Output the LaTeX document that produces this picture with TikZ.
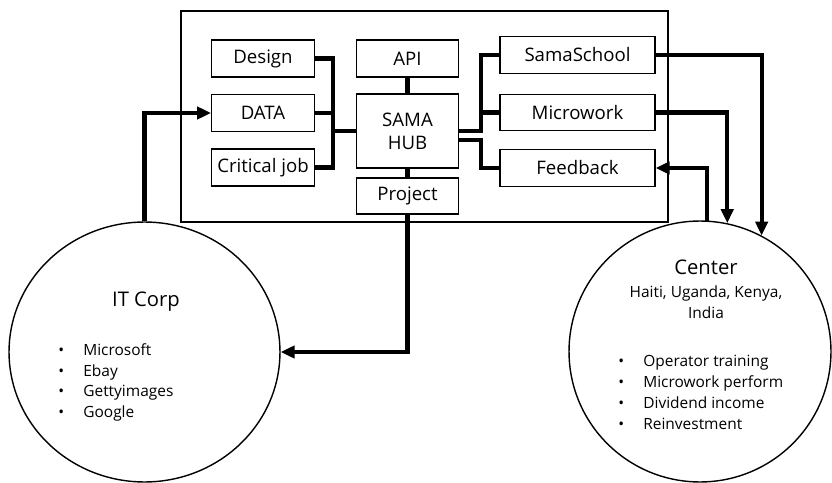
\documentclass[tikz,border=0pt]{standalone}
\usepackage{fontspec}
\setmainfont{Open Sans}
\usetikzlibrary{arrows.meta,shapes.geometric}

\newcommand{\itembullet}{\makebox[0.5cm][l]{•}}

\begin{document}
\begin{tikzpicture}[
    x=0.02cm, y=-0.02cm,
    block/.style={rectangle, draw, line width=0.8pt, minimum width=2.05cm, minimum height=0.74cm, inner sep=0pt, align=center, font=\fontsize{10.6}{13}\selectfont},
    wideblock/.style={block, minimum width=3.1cm, minimum height=0.73cm},
    party/.style={ellipse, draw, line width=0.8pt, inner sep=0pt},
    title/.style={anchor=base, inner sep=0pt, font=\fontsize{11.5}{14}\selectfont},
    items/.style={anchor=north west, inner sep=0pt, align=left, font=\fontsize{8.8}{11.9}\selectfont},
    link/.style={line width=2.3pt},
    flow/.style={link, -{Triangle[length=8pt, width=7pt]}}
]
\useasboundingbox (0,0) rectangle (832,483);

% Platform frame
\node[draw, line width=0.8pt, minimum width=9.74cm, minimum height=4.22cm, inner sep=0pt] (frame) at (424.5,116.5) {};

% Inputs (left)
\node[block] (design) at (263,58.5) {Design};
\node[block] (data) at (263,113) {DATA};
\node[block] (critical) at (263,167.5) {Critical job};

% Hub
\node[block] (api) at (407.5,58.5) {API};
\node[block, minimum height=1.48cm] (hub) at (407.5,131) {SAMA\\HUB};
\node[block, minimum height=0.72cm] (project) at (407.5,196) {Project};

% Outputs (right)
\node[wideblock] (samaschool) at (577.5,55) {SamaSchool};
\node[wideblock] (microwork) at (577.5,112.5) {Microwork};
\node[wideblock] (feedback) at (577.5,168) {Feedback};

% Partners
\node[party, minimum width=5.42cm, minimum height=5.2cm] (itcorp) at (144.5,352) {};
\node[party, minimum width=5.24cm, minimum height=5.22cm] (center) at (700,351.5) {};

\node[title] (corptitle) at (146,306) {IT Corp};
\node[items] (corplist) at (58,343) {\itembullet Microsoft\\ \itembullet Ebay\\ \itembullet Gettyimages\\ \itembullet Google};

\node[title] (centertitle) at (706,274) {Center};
\node[items, anchor=north, align=center] (countries) at (706,285) {Haiti, Uganda, Kenya,\\India};
\node[items] (centerlist) at (618,355) {\itembullet Operator training\\ \itembullet Microwork perform\\ \itembullet Dividend income\\ \itembullet Reinvestment};

% Links inside the frame
\coordinate (lbus) at (333,131);
\coordinate (rbus) at (481,131);
\draw[link] (design.east) -| (lbus) |- (critical.east);
\draw[link] (data.east) -- (data.east -| lbus);
\draw[link] (lbus) -- (hub.west);
\draw[link] (api) -- (hub);
\draw[link] (hub) -- (project);
\draw[link] (hub.east) -- (rbus) |- (samaschool.west);
\draw[link] (microwork.west) -- (microwork.west -| rbus);
\draw[link] (hub.-10) -| (rbus |- feedback.west) -- (feedback.west);

% Flows between partners and platform
\draw[flow] (itcorp.north) |- (data.west);
\draw[flow] (project.south) |- (itcorp.east);
\draw[flow] (samaschool.east) -| (center.62);
\draw[flow] (microwork.east) -| (center.78);
\draw[flow] (center.87) |- (feedback.east);

\end{tikzpicture}
\end{document}
